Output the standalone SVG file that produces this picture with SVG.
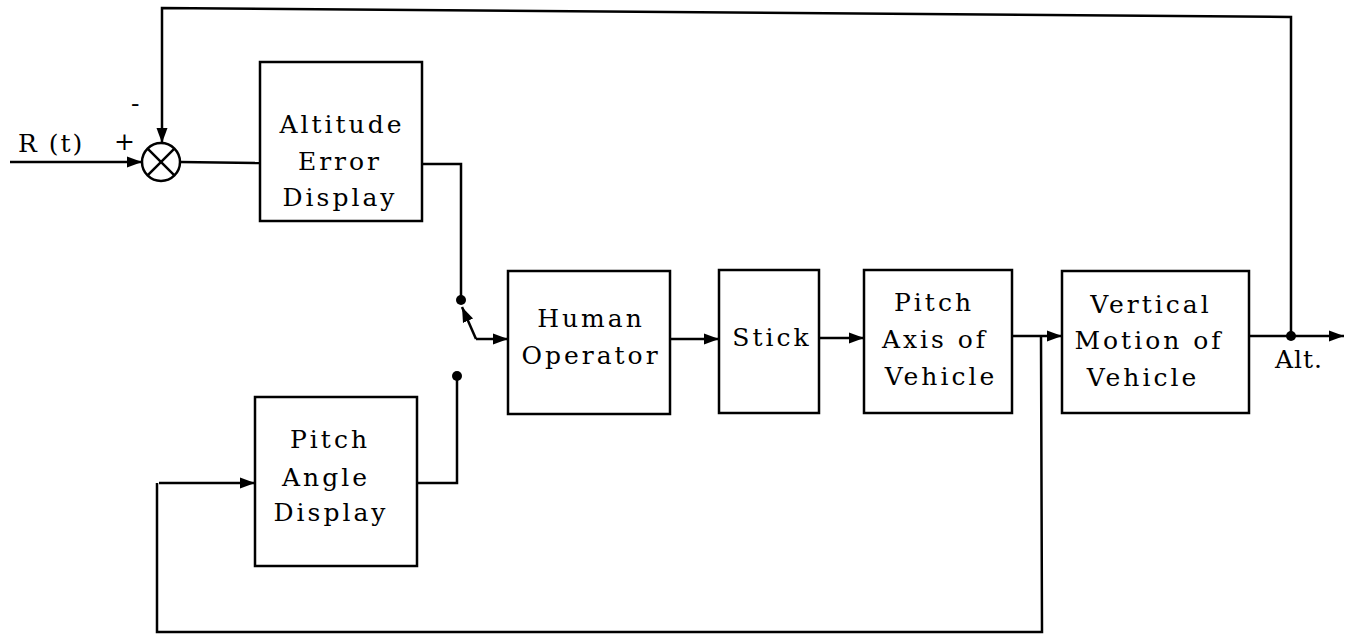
<svg xmlns="http://www.w3.org/2000/svg" width="1353" height="638" viewBox="0 0 1353 638">
<style>
  .box { fill: #fff; stroke: #000; stroke-width: 2.5; }
  .ln { fill: none; stroke: #000; stroke-width: 2.5; }
  .t { font-family: "DejaVu Serif", "Liberation Serif", serif; font-size: 25px; letter-spacing: 3px; fill: #000; text-anchor: middle; }
  .lbl { font-family: "DejaVu Serif", "Liberation Serif", serif; font-size: 25px; letter-spacing: 1px; fill: #000; }
</style>
<defs>
  <marker id="arr" markerUnits="userSpaceOnUse" markerWidth="16" markerHeight="14" refX="15" refY="7" orient="auto">
    <path d="M0,1.5 L15,7 L0,12.5 Z" fill="#000"/>
  </marker>
</defs>
<rect width="1353" height="638" fill="#fff"/>

<g id="connectors">
  <line class="ln" x1="10" y1="162" x2="142" y2="162" marker-end="url(#arr)"/>
  <line class="ln" x1="180" y1="162" x2="260" y2="163"/>
  <polyline class="ln" points="422,164 461,164 461,300"/>
  <line class="ln" x1="476" y1="339" x2="462" y2="307" marker-end="url(#arr)"/>
  <line class="ln" x1="476" y1="339" x2="508" y2="339" marker-end="url(#arr)"/>
  <polyline class="ln" points="417,483 457,483 457,376"/>
  <line class="ln" x1="670" y1="339" x2="719" y2="339" marker-end="url(#arr)"/>
  <line class="ln" x1="819" y1="338" x2="864" y2="338" marker-end="url(#arr)"/>
  <line class="ln" x1="1012" y1="336" x2="1062" y2="336" marker-end="url(#arr)"/>
  <polyline class="ln" points="1041,336 1042,632 157,632 157,483"/>
  <line class="ln" x1="159" y1="483" x2="255" y2="483" marker-end="url(#arr)"/>
  <line class="ln" x1="1249" y1="336" x2="1344" y2="336" marker-end="url(#arr)"/>
  <polyline class="ln" points="1291,336 1291,17 162,8 162,143" marker-end="url(#arr)"/>
  <circle cx="461" cy="300" r="5" fill="#000"/>
  <circle cx="457" cy="376" r="5" fill="#000"/>
  <circle cx="1291" cy="336" r="5" fill="#000"/>
</g>

<g id="sum">
  <circle class="ln" cx="161" cy="162" r="19"/>
  <line class="ln" x1="147.6" y1="148.6" x2="174.4" y2="175.4"/>
  <line class="ln" x1="174.4" y1="148.6" x2="147.6" y2="175.4"/>
  <text class="lbl" x="18" y="152" style="letter-spacing:2px">R (t)</text>
  <text class="lbl" x="114" y="150">+</text>
  <text class="lbl" x="131" y="112">-</text>
</g>

<g id="altitude-error-display">
  <rect class="box" x="260" y="62" width="162" height="159"/>
  <text class="t" x="342" y="133">Altitude</text>
  <text class="t" x="340" y="170">Error</text>
  <text class="t" x="340" y="206">Display</text>
</g>

<g id="pitch-angle-display">
  <rect class="box" x="255" y="397" width="162" height="169"/>
  <text class="t" x="330" y="448">Pitch</text>
  <text class="t" x="326" y="486">Angle</text>
  <text class="t" x="331" y="521">Display</text>
</g>

<g id="human-operator">
  <rect class="box" x="508" y="271" width="162" height="143"/>
  <text class="t" x="591" y="327">Human</text>
  <text class="t" x="591" y="364">Operator</text>
</g>

<g id="stick">
  <rect class="box" x="719" y="270" width="100" height="143"/>
  <text class="t" x="772" y="346">Stick</text>
</g>

<g id="pitch-axis">
  <rect class="box" x="864" y="270" width="148" height="143"/>
  <text class="t" x="934" y="311">Pitch</text>
  <text class="t" x="935" y="348">Axis of</text>
  <text class="t" x="941" y="385">Vehicle</text>
</g>

<g id="vertical-motion">
  <rect class="box" x="1062" y="271" width="187" height="142"/>
  <text class="t" x="1151" y="313">Vertical</text>
  <text class="t" x="1149" y="349">Motion of</text>
  <text class="t" x="1143" y="386">Vehicle</text>
</g>

<g id="alt-label">
  <text class="lbl" x="1275" y="368">Alt.</text>
</g>
</svg>
